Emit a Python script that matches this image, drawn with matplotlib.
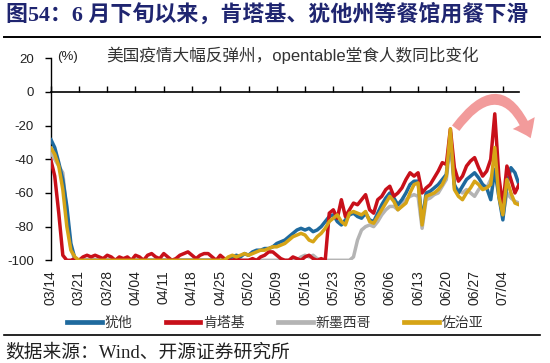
import matplotlib
matplotlib.use("Agg")
import matplotlib.pyplot as plt
import matplotlib.dates as mdates
from matplotlib.lines import Line2D
from matplotlib.patches import FancyArrowPatch
import pandas as pd

# ---------------- data ----------------
start_date = "2020-03-14"
n_days = 117  # 03/14 .. 07/08

series_names = ["犹他", "肯塔基", "新墨西哥", "佐治亚"]

utah = [
    -28, -33, -42, -52, -68, -90, -99, -100, -100, -100,
    -100, -100, -100, -100, -100, -100, -100, -100, -100, -100,
    -100, -100, -100, -100, -100, -100, -100, -100, -100, -100,
    -100, -100, -100, -100, -100, -100, -100, -100, -100, -100,
    -100, -100, -100, -100, -99, -98, -97, -98, -96, -97,
    -95, -94, -94, -93, -93, -92, -90, -89, -88, -86,
    -84, -82, -81, -82, -81, -83, -82, -80, -77, -74,
    -73, -77, -79, -76, -73, -72, -74, -75, -72, -76,
    -77, -72, -67, -63, -60, -63, -67, -64, -60, -55,
    -53, -53, -77, -60, -59, -57, -55, -52, -49, -24,
    -55, -60, -56, -52, -50, -48, -51, -55, -57, -64,
    -46, -62, -76, -55, -45, -48, -55,
]

kentucky = [
    -40, -50, -72, -97, -100, -100, -99, -100, -98, -97,
    -98, -97, -98, -99, -97, -98, -100, -98, -99, -98,
    -100, -97, -98, -100, -97, -96, -98, -99, -96, -98,
    -100, -99, -97, -96, -95, -97, -99, -97, -96, -96,
    -98, -100, -97, -99, -100, -100, -99, -100, -100, -100,
    -99, -100, -98, -97, -95, -95, -97, -99, -100, -100,
    -98, -99, -100, -98, -97, -99, -100, -99, -100, -72,
    -70, -75, -64, -74, -70, -66, -67, -64, -61, -70,
    -72, -64, -62, -58, -56, -62, -60, -57, -52, -48,
    -50, -48, -60, -57, -55, -51, -47, -42, -43, -22,
    -45, -53, -50, -44, -41, -39, -45, -50, -47, -40,
    -13, -50, -68, -44, -52, -60, -55,
]

new_mexico = [
    -36, -40, -44, -48, -72, -93, -100, -100, -100, -100,
    -100, -100, -100, -100, -100, -100, -100, -100, -100, -100,
    -100, -100, -100, -100, -100, -100, -100, -100, -100, -100,
    -100, -100, -100, -100, -100, -100, -100, -100, -100, -100,
    -100, -100, -100, -100, -100, -100, -100, -100, -100, -100,
    -100, -100, -100, -100, -100, -100, -100, -100, -100, -100,
    -100, -100, -98, -97, -98, -97, -99, -100, -100, -100,
    -100, -100, -100, -100, -100, -98, -88, -82, -80, -79,
    -80, -77, -73, -70, -68, -68, -70, -67, -64, -62,
    -61, -62, -81, -64, -63, -61, -60, -56, -52, -30,
    -57, -58, -60, -58, -60, -62, -58, -55, -57, -52,
    -46, -60, -74, -60, -63, -65, -66,
]

georgia = [
    -33, -37, -44, -58, -80, -94, -98, -100, -100, -100,
    -100, -100, -100, -100, -100, -100, -100, -100, -100, -100,
    -100, -100, -100, -100, -100, -100, -100, -100, -100, -100,
    -100, -100, -100, -100, -100, -100, -100, -100, -100, -100,
    -100, -100, -100, -100, -98, -97, -98, -97, -96, -97,
    -96, -95, -94, -94, -93, -92, -92, -91, -90, -88,
    -86, -85, -84, -85, -88, -89, -86, -84, -81, -77,
    -75, -73, -77, -79, -72, -71, -72, -73, -71, -77,
    -78, -74, -70, -66, -62, -65, -70, -68, -66, -60,
    -55, -54, -79, -62, -61, -60, -58, -55, -50, -22,
    -58, -62, -64, -60, -57, -53, -55, -58, -57, -55,
    -33, -62, -73, -52, -60, -66, -67,
]

tick_labels = ["03/14", "03/21", "03/28", "04/04", "04/11", "04/18", "04/25",
               "05/02", "05/09", "05/16", "05/23", "05/30", "06/06", "06/13",
               "06/20", "06/27", "07/04"]
y_ticks = [20, 0, -20, -40, -60, -80, -100]

colors = ["#1F6A9E", "#C8101A", "#B4B4B4", "#D6A416"]

title = "图54：6 月下旬以来，肯塔基、犹他州等餐馆用餐下滑"
subtitle = "美国疫情大幅反弹州，opentable堂食人数同比变化"
source = "数据来源：Wind、开源证券研究所"

# ---------------- figure ----------------
W, H = 550, 363
fig = plt.figure(figsize=(W / 100, H / 100), dpi=100)
fig.patch.set_facecolor("white")

sans = ["Liberation Sans", "Noto Sans CJK SC", "DejaVu Sans"]
serif = ["Liberation Serif", "Noto Sans CJK SC", "DejaVu Sans"]

ax = fig.add_axes([50.7 / W, 1 - 260.3 / H, (519 - 50.7) / W, (260.3 - 58.3) / H])

dates = pd.date_range(start_date, periods=n_days, freq="D")
data = [utah, kentucky, new_mexico, georgia]
order = [2, 0, 1, 3]  # gray, blue, red, gold
for i in order:
    ax.plot(dates, data[i], color=colors[i], lw=2.5, solid_joinstyle="round",
            solid_capstyle="round", label=series_names[i], zorder=3 + order.index(i))

ax.set_xlim(dates[0], dates[-1])
ax.set_ylim(-100, 20)
ax.set_yticks(y_ticks)
ax.set_yticklabels([str(v) for v in y_ticks], fontfamily=sans, fontsize=9.5, color="#222222")
ax.tick_params(axis="y", direction="out", length=4, width=1, pad=8)

tick_dates = pd.to_datetime(["2020/" + t for t in tick_labels])
ax.set_xticks(tick_dates)
ax.tick_params(axis="x", direction="in", length=4, width=1, labelbottom=False)

for s in ["top", "right"]:
    ax.spines[s].set_visible(False)
ax.spines["bottom"].set_position(("data", 0))
ax.spines["left"].set_linewidth(1)
ax.spines["bottom"].set_linewidth(1.2)

for d, lab in zip(tick_dates, tick_labels):
    ax.annotate(lab, xy=(mdates.date2num(d), 0), xycoords=("data", "axes fraction"),
                xytext=(0, -7), textcoords="offset points", rotation=90,
                ha="center", va="top", fontsize=10, fontfamily=sans, color="#222222")

# curved arrow (pixel positions converted to data)
x0 = mdates.date2num(dates[0])
arrow = FancyArrowPatch((x0 + (456 - 50.7) / 4.04, (91.7 - 128) / 1.685),
                        (x0 + (531 - 50.7) / 4.04, (91.7 - 138) / 1.685),
                        connectionstyle="arc3,rad=-0.9",
                        arrowstyle="simple,head_width=1.5,head_length=1.0,tail_width=0.55",
                        mutation_scale=12, color="#F08A8A", alpha=0.85,
                        shrinkA=0, shrinkB=0,
                        clip_on=False, zorder=10, lw=0)
ax.add_patch(arrow)

# texts
fig.text(6 / W, 1 - 14 / H, title, fontsize=15.8, fontweight="bold", color="#1F2570",
         fontfamily=serif, ha="left", va="center")
fig.add_artist(Line2D([3.5 / W, 540 / W], [1 - 37 / H] * 2, color="black", lw=1.4))
fig.text(106 / W, 1 - 55 / H, subtitle, fontsize=12, color="#333333",
         fontfamily=sans, ha="left", va="center")
fig.text(57 / W, 1 - 57 / H, "(%)", fontsize=9.5, color="#222222",
         fontfamily=sans, ha="left", va="center")

handles = [Line2D([], [], color=colors[i], lw=3.4) for i in range(4)]
fig.legend(handles, series_names, loc="center left",
           bbox_to_anchor=(67 / W, 1 - 323 / H), ncol=4, frameon=False,
           prop={"family": sans, "size": 10}, handlelength=2.5, handletextpad=0.2,
           columnspacing=2.4, borderpad=0, borderaxespad=0, labelcolor="#333333")

fig.add_artist(Line2D([4 / W, 540 / W], [1 - 334.5 / H] * 2, color="black", lw=1.2))
fig.text(5 / W, 1 - 353 / H, source, fontsize=13.5, color="#222222",
         fontfamily=serif, ha="left", va="center")

fig.savefig("out.png", dpi=100, facecolor="white")
